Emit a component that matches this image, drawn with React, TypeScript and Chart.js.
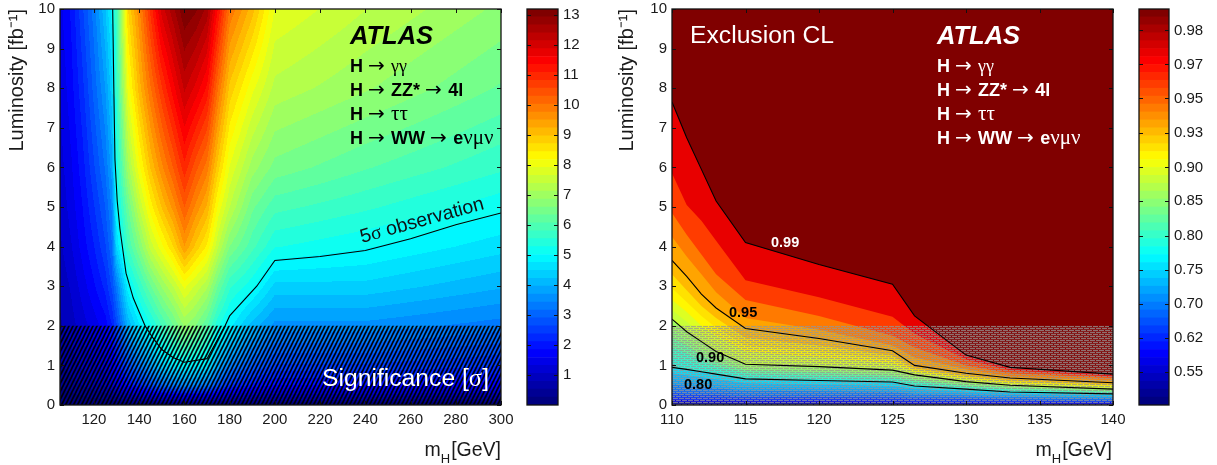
import React, { useEffect, useRef } from "react";
import { Chart, registerables } from "chart.js";
Chart.register(...registerables);

const FONT = '"Liberation Sans"';
Chart.defaults.font.family = FONT;
Chart.defaults.color = "#1a1a1a";

// ---- Significance panel: values ----
const sigMasses = [105,110,115,120,125,128,130,135,140,145,150,155,160,165,170,175,180,190,200,240,300];
const sigLumis = [0,0.5,1,2,3,4,5,6,8,10];
const sigL0 = [.02,.02,.02,.02,.02,.02,.02,.02,.02,.02,.02,.02,.02,.02,.02,.02,.02,.02,.02,.02,.02];
const sigL05 = [.3,.4,.55,.7,.85,1.1,1.35,1.9,2.3,2.7,3.1,3.3,3.5,3.4,3.3,2.8,2.4,2.05,1.85,1.85,1.7];
const sigL1 = [.5,.65,.85,1,1.2,1.5,1.9,2.7,3.3,3.8,4.4,4.7,4.9,4.8,4.75,3.9,3.4,2.9,2.6,2.6,2.4];
const sigL2 = [.75,.95,1.2,1.45,1.7,2.1,2.6,4,4.7,5.2,5.8,6.3,6.9,6.6,6.1,5.3,4.85,4.1,3.6,3.6,3.3];
const sigL3 = [.85,1.1,1.45,1.8,2.2,2.7,3.3,4.9,5.6,6.3,6.9,7.4,8,7.6,7.2,6.3,5.6,5.1,4.4,4.4,4];
const sigL4 = [1,1.3,1.7,2.1,2.6,3.15,4.5,5.8,6.6,7.5,8.1,8.7,9.5,8.9,8.4,7.4,6.6,5.9,5.3,5.05,4.6];
const sigL5 = [1.1,1.45,1.85,2.35,2.9,3.5,5,6.3,7.4,8.3,9,9.6,10.3,9.7,9.2,8.1,7.4,6.4,5.9,5.6,5.1];
const sigL6 = [1.2,1.55,2,2.6,3.2,3.85,5.25,7,8.1,9,9.7,10.3,11,10.4,9.9,8.8,7.9,7,6.5,6.1,5.6];
const sigL8 = [1.35,1.75,2.3,3,3.7,4.4,5.6,8,9.1,10,10.8,11.5,12.2,11.8,11.3,10,8.9,8,7.3,6.9,6.3];
const sigL10 = [1.5,1.9,2.6,3.3,4.2,4.9,5.8,8.7,9.7,10.9,12,12.6,13.2,13,12.6,11.3,10,9.1,7.9,7.4,6.8];
const sigTable = [sigL0,sigL05,sigL1,sigL2,sigL3,sigL4,sigL5,sigL6,sigL8,sigL10];
const sigMax = 13.2;
const sigTicks = [1,2,3,4,5,6,7,8,9,10,11,12,13];

const obsMass = [128.3,128.8,129.3,130.3,131.5,134.2,137.4,142.6,146,150,155,160,170,178,180,192,200,220,240,260,280,300];
const obsLumi = [10,8,6.2,5.15,4.45,3.33,2.7,2,1.7,1.4,1.2,1.08,1.17,2,2.25,3,3.65,3.75,3.9,4.2,4.55,4.85];

// ---- Exclusion panel: contour boundaries ----
const clMasses = [110,111,112,113,115,120,125,126.5,130,133,140];
const cl99 = [7.65,6.75,5.95,5.15,4.1,3.55,3.05,2.25,1.26,.95,.78];
const cl98 = [5.85,5.05,4.65,4.15,3.15,2.72,2.23,1.8,1.15,.88,.72];
const cl97 = [4.85,4.3,3.8,3.3,2.65,2.25,1.75,1.45,1,.8,.68];
const cl96 = [4.25,3.75,3.3,2.85,2.2,1.9,1.5,1.2,.9,.72,.62];
const cl95 = [3.65,3.25,2.8,2.45,1.93,1.68,1.37,1,.8,.68,.56];
const cl94 = [3.3,2.9,2.5,2.2,1.7,1.5,1.25,.93,.74,.62,.52];
const cl93 = [2.95,2.6,2.25,1.95,1.5,1.35,1.15,.88,.7,.58,.49];
const cl92 = [2.65,2.35,2,1.75,1.35,1.2,1.05,.84,.66,.55,.46];
const cl91 = [2.4,2.1,1.8,1.55,1.18,1.05,.95,.8,.62,.52,.43];
const cl90 = [2.17,1.85,1.6,1.35,1.03,.97,.88,.76,.59,.5,.4];
const cl88 = [1.9,1.65,1.4,1.2,.95,.88,.8,.68,.55,.46,.37];
const cl86 = [1.7,1.5,1.25,1.08,.88,.82,.74,.63,.5,.43,.35];
const cl84 = [1.45,1.3,1.12,.98,.8,.74,.68,.58,.46,.39,.32];
const cl82 = [1.2,1.1,.98,.88,.73,.66,.62,.52,.43,.36,.3];
const cl80 = [.95,.9,.84,.78,.66,.62,.58,.48,.4,.33,.28];
const cl75 = [.8,.75,.7,.65,.55,.52,.48,.41,.34,.29,.24];
const cl72 = [.65,.6,.56,.52,.45,.43,.4,.34,.29,.25,.2];
const cl70 = [.52,.48,.45,.42,.36,.35,.33,.28,.24,.21,.17];
const cl65 = [.4,.37,.35,.33,.28,.27,.26,.22,.19,.17,.14];
const cl60 = [.3,.28,.26,.25,.21,.2,.19,.17,.15,.13,.11];
const cl57 = [.22,.2,.19,.18,.15,.15,.14,.12,.11,.1,.08];
const cl54 = [.14,.13,.12,.12,.1,.1,.09,.08,.07,.07,.06];
const cl52 = [.07,.07,.06,.06,.05,.05,.05,.04,.04,.03,.03];
const clCurves = [cl99,cl98,cl97,cl96,cl95,cl94,cl93,cl92,cl91,cl90,cl88,cl86,cl84,cl82,cl80,cl75,cl72,cl70,cl65,cl60,cl57,cl54,cl52];
const clBandBelow = [44,40,37,35,34,32,31,29,28,26,25,23,21,20,17,15,14,12,11,9,8,5,1];
const clLines = [cl99,cl95,cl90,cl80];
const clTickLabels = ["0.55","0.62","0.70","0.75","0.80","0.85","0.90","0.93","0.95","0.97","0.98"];
const clTickLevels = [4.2,8.5,12.8,17.1,21.4,25.75,30,34.4,38.7,43,47.3];

const LEVELS = 50;
function jet(t: number): [number, number, number] {
  const c = (v: number) => Math.round(255 * Math.max(0, Math.min(1, v)));
  return [c(1.5 - Math.abs(4 * t - 3)), c(1.5 - Math.abs(4 * t - 2)), c(1.5 - Math.abs(4 * t - 1))];
}
const levelRGB = (k: number) => jet(k / (LEVELS - 1));
const levelCss = (k: number) => { const [r, g, b] = levelRGB(k); return `rgb(${r},${g},${b})`; };

function bracket(a: number[], v: number) {
  let i = 0;
  while (i < a.length - 2 && v > a[i + 1]) i++;
  return [i, Math.max(0, Math.min(1, (v - a[i]) / (a[i + 1] - a[i])))];
}
function sigAt(m: number, l: number) {
  const [i, u] = bracket(sigMasses, m);
  const [j, v] = bracket(sigLumis, l);
  const t = sigTable;
  return (t[j][i] * (1 - u) + t[j][i + 1] * u) * (1 - v) + (t[j + 1][i] * (1 - u) + t[j + 1][i + 1] * u) * v;
}

const heatPlugin = {
  id: "heat",
  beforeDatasetsDraw(chart: any) {
    const { ctx, chartArea: a, scales } = chart;
    const x0 = Math.round(a.left), y0 = Math.round(a.top);
    const w = Math.round(a.right) - x0, h = Math.round(a.bottom) - y0;
    const img = ctx.createImageData(w, h);
    const ms = Array.from({ length: w }, (_, i) => scales.x.getValueForPixel(x0 + i + 0.5));
    for (let j = 0; j < h; j++) {
      const l = scales.y.getValueForPixel(y0 + j + 0.5);
      for (let i = 0; i < w; i++) {
        const s = sigAt(ms[i], l);
        const k = Math.min(LEVELS - 1, Math.floor((s / sigMax) * LEVELS));
        const [r, g, b] = levelRGB(k);
        const o = (j * w + i) * 4;
        img.data[o] = r; img.data[o + 1] = g; img.data[o + 2] = b; img.data[o + 3] = 255;
      }
    }
    ctx.putImageData(img, x0, y0);
  },
};

function framePlugin(tickLen: number, xTicks: boolean) {
  return {
    id: "frame",
    afterDatasetsDraw(chart: any) {
      const { ctx, chartArea: a, scales } = chart;
      ctx.save();
      ctx.strokeStyle = "#111";
      ctx.lineWidth = 1;
      ctx.beginPath();
      if (xTicks) {
        for (const t of scales.x.ticks) {
          const p = Math.round(scales.x.getPixelForValue(t.value)) + 0.5;
          ctx.moveTo(p, a.bottom); ctx.lineTo(p, a.bottom - tickLen);
          ctx.moveTo(p, a.top); ctx.lineTo(p, a.top + tickLen);
        }
      }
      for (const t of scales.y.ticks) {
        const p = Math.round(scales.y.getPixelForValue(t.value)) + 0.5;
        ctx.moveTo(a.left, p); ctx.lineTo(a.left + tickLen, p);
        ctx.moveTo(a.right, p); ctx.lineTo(a.right - tickLen, p);
      }
      ctx.stroke();
      ctx.lineWidth = 1.3;
      ctx.strokeRect(a.left, a.top, a.right - a.left, a.bottom - a.top);
      ctx.restore();
    },
  };
}

type Seg = [string, string];
function segs(ctx: any, x: number, y: number, parts: Seg[], color: string) {
  ctx.fillStyle = color;
  ctx.textBaseline = "alphabetic";
  ctx.textAlign = "left";
  let px = x;
  for (const [font, text] of parts) {
    ctx.font = font;
    ctx.fillText(text, px, y);
    px += ctx.measureText(text).width;
  }
}
const B = `bold 18px ${FONT}`;
const R = `20px "DejaVu Sans"`;
const G = `18px "Liberation Serif"`;
const G2 = `21px "Liberation Serif"`;
function channels(ctx: any, x: number, color: string) {
  segs(ctx, x, 44, [[`italic bold 25.5px ${FONT}`, "ATLAS"]], color);
  segs(ctx, x, 72, [[B, "H "], [R, "→ "], [G, "γγ"]], color);
  segs(ctx, x, 96, [[B, "H "], [R, "→ "], [B, "ZZ* "], [R, "→ "], [B, "4l"]], color);
  segs(ctx, x, 120, [[B, "H "], [R, "→ "], [G2, "ττ"]], color);
  segs(ctx, x, 144, [[B, "H "], [R, "→ "], [B, "WW "], [R, "→ "], [B, "e"], [G2, "νμν"]], color);
}
function massTitle(ctx: any, right: number) {
  const f = `19.5px ${FONT}`;
  const s = `13px ${FONT}`;
  ctx.save();
  ctx.textAlign = "left";
  ctx.font = f;
  const w = ctx.measureText("[GeV]").width;
  ctx.fillStyle = "#1a1a1a";
  ctx.fillText("[GeV]", right - w, 456);
  const hw = (ctx.font = s, ctx.measureText("H").width);
  ctx.fillText("H", right - w - hw - 1, 463);
  ctx.font = f;
  const mw = ctx.measureText("m").width;
  ctx.fillText("m", right - w - hw - 1 - mw, 456);
  ctx.restore();
}

const leftText = {
  id: "leftText",
  afterDraw(chart: any) {
    const { ctx } = chart;
    ctx.save();
    channels(ctx, 350, "#000");
    segs(ctx, 322, 386, [[`24.7px ${FONT}`, "Significance ["], [`24.7px "Liberation Serif"`, "σ"], [`24.7px ${FONT}`, "]"]], "#fff");
    ctx.translate(362, 243);
    ctx.rotate(-15.5 * Math.PI / 180);
    segs(ctx, 0, 0, [[`19.5px ${FONT}`, "5"], [`19.5px "Liberation Serif"`, "σ"], [`19.5px ${FONT}`, " observation"]], "#111");
    ctx.restore();
    massTitle(ctx, 501);
  },
};
const rightText = {
  id: "rightText",
  afterDraw(chart: any) {
    const { ctx } = chart;
    ctx.save();
    ctx.translate(-610, 0);
    channels(ctx, 937, "#fff");
    segs(ctx, 690, 43, [[`24.7px ${FONT}`, "Exclusion CL"]], "#fff");
    const f = `bold 14.5px ${FONT}`;
    segs(ctx, 771, 247, [[f, "0.99"]], "#fff");
    segs(ctx, 729, 317, [[f, "0.95"]], "#000");
    segs(ctx, 696, 362, [[f, "0.90"]], "#000");
    segs(ctx, 684, 389, [[f, "0.80"]], "#000");
    massTitle(ctx, 1112);
    ctx.restore();
  },
};

function pattern(kind: "diag" | "brick") {
  const c = document.createElement("canvas");
  if (kind === "diag") {
    c.width = 4; c.height = 8;
    const g = c.getContext("2d")!;
    g.strokeStyle = "rgba(0,0,0,0.95)";
    g.lineWidth = 1.7;
    for (const dx of [-4, 0, 4]) {
      g.beginPath(); g.moveTo(dx - 1, 10); g.lineTo(dx + 5, -2); g.stroke();
    }
  } else {
    c.width = 6; c.height = 4;
    const g = c.getContext("2d")!;
    g.fillStyle = "rgba(150,150,150,0.2)";
    g.fillRect(0, 1, 6, 1);
    g.fillRect(0, 3, 6, 1);
    g.fillStyle = "rgba(150,150,150,0.75)";
    g.fillRect(0, 0, 5, 1);
    g.fillRect(3, 2, 3, 1);
    g.fillRect(0, 2, 2, 1);
  }
  return c.getContext("2d")!.createPattern(c, "repeat")!;
}

const pts = (xs: number[], ys: number[]) => xs.map((x, i) => ({ x, y: ys[i] }));
const noPoint = { pointRadius: 0, pointHoverRadius: 0, tension: 0 };
const zeroPad = (s: any) => { s.paddingLeft = 0; s.paddingRight = 0; s.paddingTop = 0; s.paddingBottom = 0; };

function mainOptions(xmin: number, xmax: number, step: number, yWidth: number, right: number) {
  return {
    responsive: false,
    animation: false as const,
    events: [] as any[],
    layout: { autoPadding: false, padding: { top: 9, right, left: 0, bottom: 0 } },
    plugins: { legend: { display: false }, tooltip: { enabled: false } },
    scales: {
      x: {
        type: "linear", min: xmin, max: xmax,
        border: { display: false },
        grid: { display: false, drawTicks: false },
        afterFit: (s: any) => { s.height = 60; zeroPad(s); },
        ticks: { stepSize: step, includeBounds: false, maxRotation: 0, autoSkip: false, padding: 6, font: { size: 15 }, color: "#1a1a1a" },
      },
      y: {
        type: "linear", min: 0, max: 10,
        border: { display: false },
        grid: { display: false, drawTicks: false },
        afterFit: (s: any) => { s.width = yWidth; zeroPad(s); },
        title: { display: true, text: "Luminosity [fb⁻¹]", align: "end", font: { size: 20 }, color: "#1a1a1a", padding: { top: 5, bottom: 0 } },
        ticks: { stepSize: 1, autoSkip: false, padding: 5, font: { size: 15 }, color: "#1a1a1a" },
      },
    },
  };
}

function barOptions(max: number, yWidth: number, extra: any) {
  return {
    responsive: false,
    animation: false as const,
    events: [] as any[],
    layout: { autoPadding: false, padding: { top: 9, left: 12, bottom: 60, right: 0 } },
    plugins: { legend: { display: false }, tooltip: { enabled: false } },
    scales: {
      x: { type: "category", display: false, stacked: true },
      y: {
        type: "linear", position: "right", min: 0, max, stacked: true,
        border: { display: false },
        grid: { display: false, drawTicks: false },
        afterFit: (s: any) => { s.width = yWidth; zeroPad(s); },
        ...extra.scale,
        ticks: { autoSkip: false, padding: 5, font: { size: 15 }, color: "#1a1a1a", ...extra.ticks },
      },
    },
  };
}
function barData(max: number) {
  return {
    labels: [""],
    datasets: Array.from({ length: LEVELS }, (_, k) => ({
      data: [max / LEVELS], backgroundColor: levelCss(k), barPercentage: 1, categoryPercentage: 1, borderWidth: 0,
    })),
  };
}

export default function App() {
  const a = useRef<HTMLCanvasElement>(null);
  const b = useRef<HTMLCanvasElement>(null);
  const c = useRef<HTMLCanvasElement>(null);
  const d = useRef<HTMLCanvasElement>(null);
  useEffect(() => {
    const sigChart = new Chart(a.current!, {
      type: "line",
      data: {
        datasets: [
          { data: pts(obsMass, obsLumi), borderColor: "#000", borderWidth: 1.1, fill: false, ...noPoint },
          { data: pts([105, 300], [2, 2]), borderWidth: 0, borderColor: "transparent", backgroundColor: pattern("diag"), fill: "origin", ...noPoint },
        ],
      },
      options: mainOptions(105, 300, 20, 60, 14) as any,
      plugins: [heatPlugin, framePlugin(4, true), leftText],
    });
    const fills = clCurves.map((curve, i) => ({
      data: pts(clMasses, curve), borderWidth: 0, borderColor: "transparent",
      backgroundColor: levelCss(clBandBelow[i]), fill: "origin", ...noPoint,
    }));
    const clChart = new Chart(c.current!, {
      type: "line",
      data: {
        datasets: [
          ...clLines.map((curve) => ({ data: pts(clMasses, curve), borderColor: "#000", borderWidth: 1.1, fill: false, ...noPoint })),
          { data: pts([110, 140], [2, 2]), borderWidth: 0, borderColor: "transparent", backgroundColor: pattern("brick"), fill: "origin", ...noPoint },
          ...fills.reverse(),
          { data: pts([110, 140], [10, 10]), borderWidth: 0, borderColor: "transparent", backgroundColor: levelCss(LEVELS - 1), fill: "origin", ...noPoint },
        ],
      },
      options: mainOptions(110, 140, 5, 62, 14) as any,
      plugins: [framePlugin(4, true), rightText],
    });
    const sigBar = new Chart(b.current!, {
      type: "bar",
      data: barData(sigMax),
      options: barOptions(sigMax, 42, {
        scale: { afterBuildTicks: (s: any) => { s.ticks = sigTicks.map((value) => ({ value })); } },
        ticks: {},
      }) as any,
      plugins: [{ ...framePlugin(4, false) }],
    });
    const clBar = new Chart(d.current!, {
      type: "bar",
      data: barData(LEVELS),
      options: barOptions(LEVELS, 48, {
        scale: { afterBuildTicks: (s: any) => { s.ticks = clTickLevels.map((value) => ({ value })); } },
        ticks: { callback: (v: number) => clTickLabels[clTickLevels.indexOf(v)] },
      }) as any,
      plugins: [{ ...framePlugin(4, false) }],
    });
    return () => { sigChart.destroy(); clChart.destroy(); sigBar.destroy(); clBar.destroy(); };
  }, []);
  const pos = (left: number, width: number): React.CSSProperties => ({ position: "absolute", left, top: 0, width, height: 465, display: "block" });
  return (
    <div style={{ position: "absolute", left: 0, top: 0, width: 1217, height: 465, overflow: "hidden", background: "#fff" }}>
      <canvas ref={a} width={515} height={465} style={pos(0, 515)} />
      <canvas ref={b} width={85} height={465} style={pos(515, 85)} />
      <canvas ref={c} width={517} height={465} style={pos(610, 517)} />
      <canvas ref={d} width={90} height={465} style={pos(1127, 90)} />
    </div>
  );
}
